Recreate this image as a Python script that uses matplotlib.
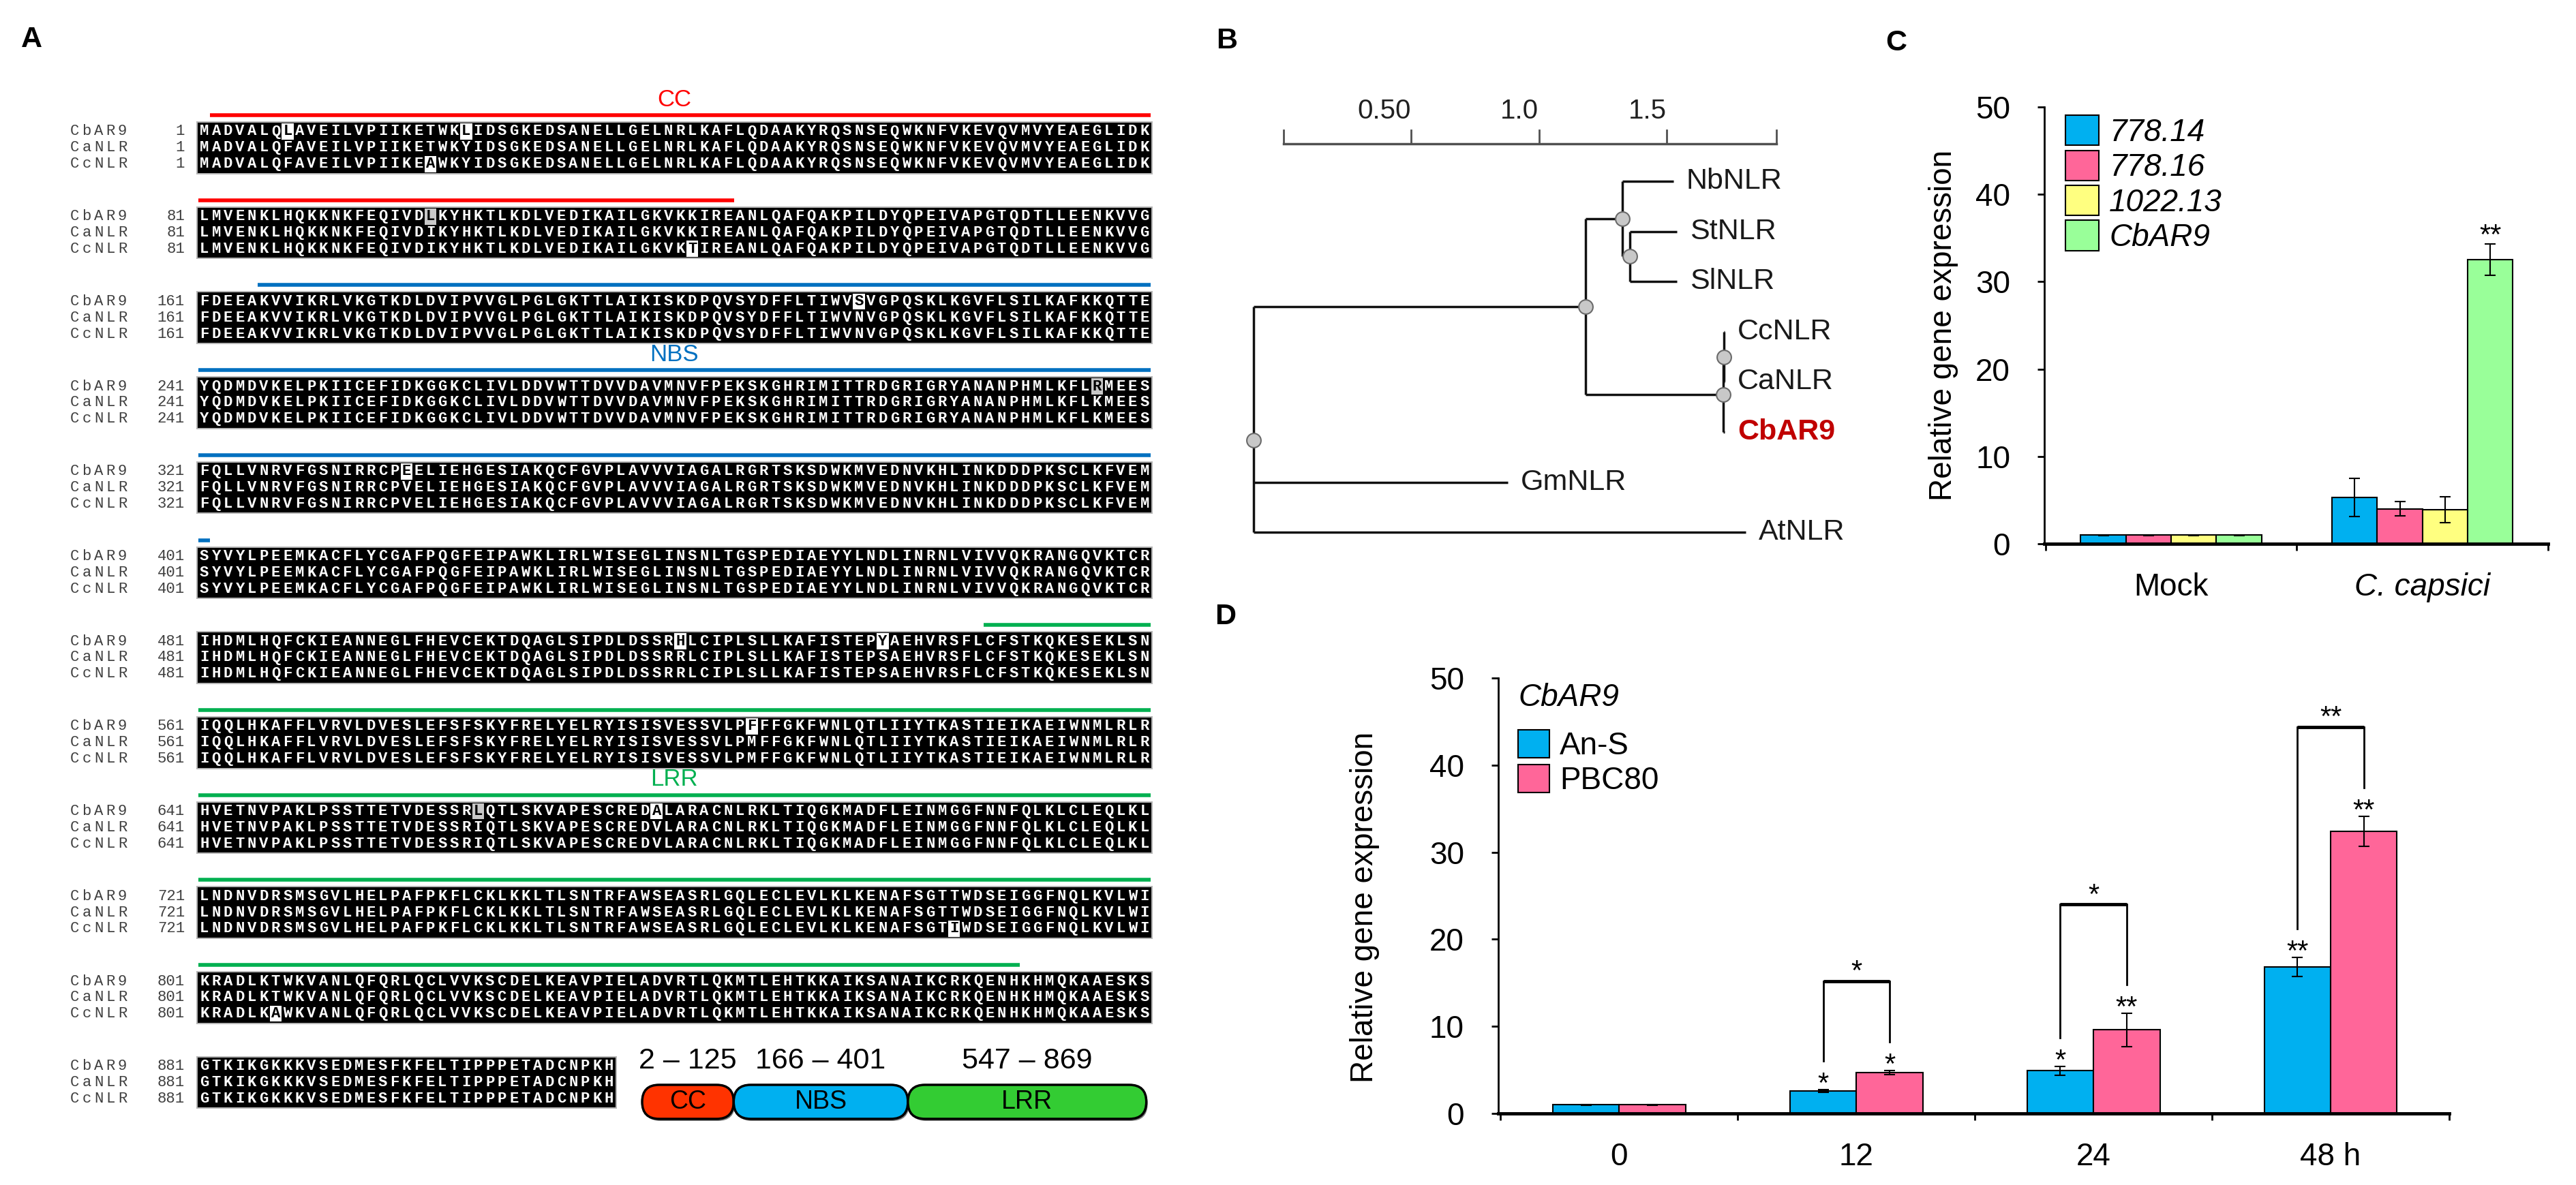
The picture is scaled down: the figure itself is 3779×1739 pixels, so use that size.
import numpy as np
import matplotlib
matplotlib.use('Agg')
from matplotlib import pyplot as plt
from matplotlib.patches import Rectangle, FancyBboxPatch

plt.rcParams['font.family'] = ['Liberation Sans', 'DejaVu Sans']

W, H = 3779, 1739

# ---------------- data ----------------
seq_names = ['CbAR9', 'CaNLR', 'CcNLR']
seq_cbar9 = [
    "MADVALQLAVEILVPIIKETWKLIDSGKEDSANELLGELNRLKAFLQDAAKYRQSNSEQWKNFVKEVQVMVYEAEGLIDK",
    "LMVENKLHQKKNKFEQIVDLKYHKTLKDLVEDIKAILGKVKKIREANLQAFQAKPILDYQPEIVAPGTQDTLLEENKVVG",
    "FDEEAKVVIKRLVKGTKDLDVIPVVGLPGLGKTTLAIKISKDPQVSYDFFLTIWVSVGPQSKLKGVFLSILKAFKKQTTE",
    "YQDMDVKELPKIICEFIDKGGKCLIVLDDVWTTDVVDAVMNVFPEKSKGHRIMITTRDGRIGRYANANPHMLKFLRMEES",
    "FQLLVNRVFGSNIRRCPEELIEHGESIAKQCFGVPLAVVVIAGALRGRTSKSDWKMVEDNVKHLINKDDDPKSCLKFVEM",
    "SYVYLPEEMKACFLYCGAFPQGFEIPAWKLIRLWISEGLINSNLTGSPEDIAEYYLNDLINRNLVIVVQKRANGQVKTCR",
    "IHDMLHQFCKIEANNEGLFHEVCEKTDQAGLSIPDLDSSRHLCIPLSLLKAFISTEPYAEHVRSFLCFSTKQKESEKLSN",
    "IQQLHKAFFLVRVLDVESLEFSFSKYFRELYELRYISISVESSVLPFFFGKFWNLQTLIIYTKASTIEIKAEIWNMLRLR",
    "HVETNVPAKLPSSTTETVDESSRLQTLSKVAPESCREDALARACNLRKLTIQGKMADFLEINMGGFNNFQLKLCLEQLKL",
    "LNDNVDRSMSGVLHELPAFPKFLCKLKKLTLSNTRFAWSEASRLGQLECLEVLKLKENAFSGTTWDSEIGGFNQLKVLWI",
    "KRADLKTWKVANLQFQRLQCLVVKSCDELKEAVPIELADVRTLQKMTLEHTKKAIKSANAIKCRKQENHKHMQKAAESKS",
    "GTKIKGKKKVSEDMESFKFELTIPPPETADCNPKH",
]
seq_canlr = [
    "MADVALQFAVEILVPIIKETWKYIDSGKEDSANELLGELNRLKAFLQDAAKYRQSNSEQWKNFVKEVQVMVYEAEGLIDK",
    "LMVENKLHQKKNKFEQIVDIKYHKTLKDLVEDIKAILGKVKKIREANLQAFQAKPILDYQPEIVAPGTQDTLLEENKVVG",
    "FDEEAKVVIKRLVKGTKDLDVIPVVGLPGLGKTTLAIKISKDPQVSYDFFLTIWVNVGPQSKLKGVFLSILKAFKKQTTE",
    "YQDMDVKELPKIICEFIDKGGKCLIVLDDVWTTDVVDAVMNVFPEKSKGHRIMITTRDGRIGRYANANPHMLKFLKMEES",
    "FQLLVNRVFGSNIRRCPVELIEHGESIAKQCFGVPLAVVVIAGALRGRTSKSDWKMVEDNVKHLINKDDDPKSCLKFVEM",
    "SYVYLPEEMKACFLYCGAFPQGFEIPAWKLIRLWISEGLINSNLTGSPEDIAEYYLNDLINRNLVIVVQKRANGQVKTCR",
    "IHDMLHQFCKIEANNEGLFHEVCEKTDQAGLSIPDLDSSRRLCIPLSLLKAFISTEPSAEHVRSFLCFSTKQKESEKLSN",
    "IQQLHKAFFLVRVLDVESLEFSFSKYFRELYELRYISISVESSVLPMFFGKFWNLQTLIIYTKASTIEIKAEIWNMLRLR",
    "HVETNVPAKLPSSTTETVDESSRIQTLSKVAPESCREDVLARACNLRKLTIQGKMADFLEINMGGFNNFQLKLCLEQLKL",
    "LNDNVDRSMSGVLHELPAFPKFLCKLKKLTLSNTRFAWSEASRLGQLECLEVLKLKENAFSGTTWDSEIGGFNQLKVLWI",
    "KRADLKTWKVANLQFQRLQCLVVKSCDELKEAVPIELADVRTLQKMTLEHTKKAIKSANAIKCRKQENHKHMQKAAESKS",
    "GTKIKGKKKVSEDMESFKFELTIPPPETADCNPKH",
]
seq_ccnlr = [
    "MADVALQFAVEILVPIIKEAWKYIDSGKEDSANELLGELNRLKAFLQDAAKYRQSNSEQWKNFVKEVQVMVYEAEGLIDK",
    "LMVENKLHQKKNKFEQIVDIKYHKTLKDLVEDIKAILGKVKTIREANLQAFQAKPILDYQPEIVAPGTQDTLLEENKVVG",
    "FDEEAKVVIKRLVKGTKDLDVIPVVGLPGLGKTTLAIKISKDPQVSYDFFLTIWVNVGPQSKLKGVFLSILKAFKKQTTE",
    "YQDMDVKELPKIICEFIDKGGKCLIVLDDVWTTDVVDAVMNVFPEKSKGHRIMITTRDGRIGRYANANPHMLKFLKMEES",
    "FQLLVNRVFGSNIRRCPVELIEHGESIAKQCFGVPLAVVVIAGALRGRTSKSDWKMVEDNVKHLINKDDDPKSCLKFVEM",
    "SYVYLPEEMKACFLYCGAFPQGFEIPAWKLIRLWISEGLINSNLTGSPEDIAEYYLNDLINRNLVIVVQKRANGQVKTCR",
    "IHDMLHQFCKIEANNEGLFHEVCEKTDQAGLSIPDLDSSRRLCIPLSLLKAFISTEPSAEHVRSFLCFSTKQKESEKLSN",
    "IQQLHKAFFLVRVLDVESLEFSFSKYFRELYELRYISISVESSVLPMFFGKFWNLQTLIIYTKASTIEIKAEIWNMLRLR",
    "HVETNVPAKLPSSTTETVDESSRIQTLSKVAPESCREDVLARACNLRKLTIQGKMADFLEINMGGFNNFQLKLCLEQLKL",
    "LNDNVDRSMSGVLHELPAFPKFLCKLKKLTLSNTRFAWSEASRLGQLECLEVLKLKENAFSGTIWDSEIGGFNQLKVLWI",
    "KRADLKAWKVANLQFQRLQCLVVKSCDELKEAVPIELADVRTLQKMTLEHTKKAIKSANAIKCRKQENHKHMQKAAESKS",
    "GTKIKGKKKVSEDMESFKFELTIPPPETADCNPKH",
]
similar_pairs = [('L', 'I'), ('K', 'R')]

domain_names = ['CC', 'NBS', 'LRR']
domain_start = [2, 166, 547]
domain_end = [125, 401, 869]
domain_line_colors = ['#FF0000', '#0070C0', '#00B050']
domain_fill = ['#FF3300', '#00B0F0', '#33CC33']

tree_leaves = ['NbNLR', 'StNLR', 'SlNLR', 'CcNLR', 'CaNLR', 'CbAR9', 'GmNLR', 'AtNLR']
tree_children = {
    'root': ['sol', 'GmNLR', 'AtNLR'],
    'sol': ['nbst', 'cap'],
    'nbst': ['NbNLR', 'stsl'],
    'stsl': ['StNLR', 'SlNLR'],
    'cap': ['ccca', 'CbAR9'],
    'ccca': ['CcNLR', 'CaNLR'],
}
tree_depth = {
    'root': 0.0, 'sol': 1.299, 'nbst': 1.443, 'stsl': 1.472, 'cap': 1.837, 'ccca': 1.84,
    'NbNLR': 1.643, 'StNLR': 1.656, 'SlNLR': 1.656, 'CcNLR': 1.843, 'CaNLR': 1.843,
    'CbAR9': 1.843, 'GmNLR': 0.995, 'AtNLR': 1.925,
}
scale_ticks = [0.0, 0.5, 1.0, 1.5, 1.93]
scale_labels = ['', '0.50', '1.0', '1.5', '']

c_groups = ['Mock', 'C. capsici']
c_lines = ['778.14', '778.16', '1022.13', 'CbAR9']
c_mean = [[1.0, 5.3], [1.0, 4.0], [1.0, 3.9], [1.0, 32.5]]
c_err = [[0.05, 2.2], [0.05, 0.8], [0.05, 1.5], [0.05, 1.8]]
c_sig = [['', ''], ['', ''], ['', ''], ['', '**']]
c_colors = ['#00B0F0', '#FF6699', '#FFFF80', '#99FF99']

d_times = ['0', '12', '24', '48 h']
d_ans = [1.0, 2.6, 4.9, 16.8]
d_ans_err = [0.05, 0.15, 0.5, 1.1]
d_pbc = [1.0, 4.7, 9.6, 32.4]
d_pbc_err = [0.05, 0.25, 1.9, 1.7]
d_ans_sig = ['', '*', '*', '**']
d_pbc_sig = ['', '*', '**', '**']
d_bracket_top = [None, 15.2, 24.0, 44.4]
d_bracket_sig = ['', '*', '*', '**']

# ---------------- figure ----------------
fig = plt.figure(figsize=(W / 100, H / 100), dpi=100)
fig.patch.set_facecolor('white')

# overlay in pixel units for the alignment panel and letters
axo = fig.add_axes([0, 0, 1, 1])
axo.set_xlim(0, W)
axo.set_ylim(H, 0)
axo.axis('off')

x0, pitch = 291, 17.46
row0, block_gap, row_gap = 193, 124.7, 23.8
seqs = [seq_cbar9, seq_canlr, seq_ccnlr]
mono = dict(fontfamily='Liberation Mono', fontsize=16, fontweight='bold')

for b in range(len(seq_cbar9)):
    yb = row0 + b * block_gap
    n = len(seq_cbar9[b])
    axo.add_patch(Rectangle((x0 - 3, yb - 15), n * pitch + 6, 2 * row_gap + 30, fc='#B5B5B5', ec='none'))
    axo.add_patch(Rectangle((x0 - 1, yb - 13), n * pitch + 2, 2 * row_gap + 26, fc='black', ec='none'))
    for r in range(3):
        y = yb + r * row_gap
        for k, ch in enumerate(seq_names[r]):
            axo.text(101 + k * pitch + pitch / 2, y, ch, ha='center', va='center',
                     fontfamily='Liberation Mono', fontsize=16, color='#404040')
        axo.text(271, y, str(b * 80 + 1), ha='right', va='center',
                 fontfamily='Liberation Mono', fontsize=16, color='#404040')
        s = seqs[r][b]
        for c, ch in enumerate(s):
            col = [q[b][c] for q in seqs]
            maj = max(set(col), key=col.count)
            xc = x0 + c * pitch
            color = 'white'
            if ch != maj:
                sim = (ch, maj) in similar_pairs or (maj, ch) in similar_pairs
                axo.add_patch(Rectangle((xc, y - row_gap / 2), pitch, row_gap,
                                        fc='#C8C8C8' if sim else 'white', ec='none'))
                color = 'black'
            axo.text(xc + pitch / 2, y, ch, color=color, ha='center', va='center', **mono)

# domain lines above the alignment
for d in range(len(domain_names)):
    for b in range(len(seq_cbar9)):
        lo = b * 80 + 1
        hi = b * 80 + len(seq_cbar9[b])
        s0, s1 = max(lo, domain_start[d]), min(hi, domain_end[d])
        if s0 > s1:
            continue
        y = row0 + b * block_gap - 24
        axo.plot([x0 + (s0 - lo) * pitch, x0 + (s1 - lo + 1) * pitch], [y, y],
                 color=domain_line_colors[d], lw=4, solid_capstyle='butt')
    mid = (domain_start[d] + domain_end[d]) / 2
    b = int((mid - 1) // 80)
    axo.text(x0 + 40 * pitch, row0 + b * block_gap - 24 - 23, domain_names[d],
             color=domain_line_colors[d], fontsize=25, ha='center', va='center')

# domain diagram
dx = 942
for d in range(len(domain_names)):
    w = (domain_end[d] - domain_start[d] + 1) * 1.083
    axo.add_patch(FancyBboxPatch((dx + 2, 1595), w, 50, boxstyle='round,pad=0,rounding_size=25',
                                 fc='#808080', ec='none'))
    axo.add_patch(FancyBboxPatch((dx, 1592), w, 50, boxstyle='round,pad=0,rounding_size=25',
                                 fc=domain_fill[d], ec='black', lw=2.5))
    axo.text(dx + w / 2, 1617, domain_names[d], fontsize=27, ha='center', va='center')
    axo.text(dx + w / 2, 1557, f'{domain_start[d]} \u2013 {domain_end[d]}', fontsize=31,
             ha='center', va='center')
    dx += w

# panel letters
for lab, (lx, ly) in zip('ABCD', [(46, 58), (1800, 60), (2782, 63), (1798, 905)]):
    axo.text(lx, ly, lab, fontsize=31, fontweight='bold', ha='center', va='center')

# ---------------- B: tree ----------------
axt = fig.add_axes([1839 / W, 1 - 820 / H, 825 / W, 670 / H])
axt.set_xlim(0, 2.2)
axt.set_ylim(7.527, -1.576)
axt.axis('off')

leaf_y = {name: i for i, name in enumerate(tree_leaves)}


def node_y(nd):
    if nd in leaf_y:
        return leaf_y[nd]
    return np.mean([node_y(k) for k in tree_children[nd]])


line_kw = dict(color='#111111', lw=2.5, solid_capstyle='butt', zorder=2, clip_on=False)
for parent, kids in tree_children.items():
    px = tree_depth[parent]
    ys = [node_y(k) for k in kids]
    axt.plot([px, px], [min(ys), max(ys)], **line_kw)
    for k in kids:
        axt.plot([px, tree_depth[k]], [node_y(k), node_y(k)], **line_kw)
for parent in tree_children:
    axt.plot(tree_depth[parent], node_y(parent), 'o', ms=15, mfc='#C8C8C8', mec='#6A6A6A',
             mew=1.5, zorder=3, clip_on=False)
for leaf in tree_leaves:
    red = leaf == 'CbAR9'
    axt.text(tree_depth[leaf] + 0.05, leaf_y[leaf], leaf, fontsize=31, va='center', ha='left',
             color='#C00000' if red else '#1A1A1A', fontweight='bold' if red else 'normal')

sx0, sy = 0.116, -0.747
axt.plot([sx0 + scale_ticks[0], sx0 + scale_ticks[-1]], [sy, sy], color='#505050', lw=2.5)
for t, lab in zip(scale_ticks, scale_labels):
    axt.plot([sx0 + t, sx0 + t], [sy, sy - 0.27], color='#505050', lw=2)
    if lab:
        axt.text(sx0 + t, -1.40, lab, fontsize=29, ha='right', va='center', color='#202020')

# ---------------- C ----------------
axc = fig.add_axes([2999 / W, 1 - 798 / H, 739 / W, 641 / H])
bw = 0.18
gx = np.arange(len(c_groups))
for i, name in enumerate(c_lines):
    xs = gx + (i - 1.5) * bw
    axc.bar(xs, c_mean[i], bw, color=c_colors[i], edgecolor='black', linewidth=1.5, label=name,
            yerr=c_err[i], error_kw=dict(ecolor='black', elinewidth=1.5, capsize=6, capthick=1.5))
    for x, m, e, s in zip(xs, c_mean[i], c_err[i], c_sig[i]):
        if s:
            axc.annotate(s, (x, m + e), xytext=(0, 0), textcoords='offset points',
                         ha='center', va='baseline', fontsize=30)
axc.set_xlim(-0.505, 1.492)
axc.set_ylim(0, 50)

# ---------------- D ----------------
axd = fig.add_axes([2198 / W, 1 - 1634 / H, 1395 / W, 639 / H])
bw2 = 0.28
tx = np.arange(len(d_times))
axd.bar(tx - bw2 / 2, d_ans, bw2, color='#00B0F0', edgecolor='black', linewidth=1.5, label='An-S',
        yerr=d_ans_err, error_kw=dict(ecolor='black', elinewidth=1.5, capsize=6, capthick=1.5))
axd.bar(tx + bw2 / 2, d_pbc, bw2, color='#FF6699', edgecolor='black', linewidth=1.5, label='PBC80',
        yerr=d_pbc_err, error_kw=dict(ecolor='black', elinewidth=1.5, capsize=6, capthick=1.5))
for i in range(len(d_times)):
    ta = d_ans[i] + d_ans_err[i]
    tp = d_pbc[i] + d_pbc_err[i]
    if d_ans_sig[i]:
        axd.annotate(d_ans_sig[i], (tx[i] - bw2 / 2, ta), xytext=(0, -3), textcoords='offset points',
                     ha='center', va='baseline', fontsize=30)
    if d_pbc_sig[i]:
        axd.annotate(d_pbc_sig[i], (tx[i] + bw2 / 2, tp), xytext=(0, -3), textcoords='offset points',
                     ha='center', va='baseline', fontsize=30)
    if d_bracket_top[i] is not None:
        top = d_bracket_top[i]
        xl, xr = tx[i] - bw2 / 2, tx[i] + bw2 / 2
        axd.plot([xl, xl], [ta + 3.3, top], color='black', lw=2)
        axd.plot([xr, xr], [tp + 3.3, top], color='black', lw=2)
        axd.plot([xl, xr], [top, top], color='black', lw=3.5, solid_capstyle='butt')
        axd.annotate(d_bracket_sig[i], ((xl + xr) / 2, top), xytext=(0, 1), textcoords='offset points',
                     ha='center', va='baseline', fontsize=30)
axd.set_xlim(-0.51, 3.5)
axd.set_ylim(0, 50)

# ---------------- shared axis styling ----------------
for ax, groups, ngap in [(axc, c_groups, 2), (axd, d_times, 4)]:
    for sp in ['top', 'right']:
        ax.spines[sp].set_visible(False)
    ax.spines['left'].set_linewidth(2)
    ax.spines['bottom'].set_linewidth(3.5)
    ax.set_yticks(np.arange(0, 51, 10))
    ax.tick_params(axis='y', direction='out', length=7, width=2, pad=29, labelsize=33)
    ax.set_xticks(np.arange(ngap + 1) - 0.5)
    ax.set_xticklabels([''] * (ngap + 1))
    ax.set_xticks(np.arange(ngap), groups, minor=True)
    ax.tick_params(axis='x', which='major', direction='out', length=7, width=2)
    ax.tick_params(axis='x', which='minor', length=0, pad=30, labelsize=33)
    ax.set_ylabel('Relative gene expression', fontsize=33)
    ax.set_facecolor('none')

axc.get_xticklabels(minor=True)[1].set_style('italic')
axc.yaxis.set_label_coords(-0.170, 0.5)
axd.yaxis.set_label_coords(-0.125, 0.473)

legc = axc.legend(loc='upper left', bbox_to_anchor=(0.042, 0.981), frameon=False, fontsize=33,
                  handlelength=1.07, handleheight=1.11, labelspacing=0.08, handletextpad=0.33,
                  borderpad=0, borderaxespad=0)
for t in legc.get_texts():
    t.set_style('italic')

axd.text(0.0208, 0.955, 'CbAR9', transform=axd.transAxes, fontsize=33, style='italic',
         ha='left', va='center')
axd.legend(loc='upper left', bbox_to_anchor=(0.0208, 0.881), frameon=False, fontsize=33,
           handlelength=1.0, handleheight=1.0, labelspacing=0.11, handletextpad=0.33,
           borderpad=0, borderaxespad=0)

fig.savefig('out.png', dpi=100)
